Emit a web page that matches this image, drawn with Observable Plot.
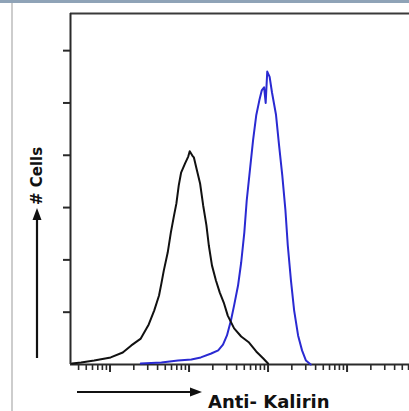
<!DOCTYPE html>
<html>
<head>
<meta charset="utf-8">
<script src="https://cdn.jsdelivr.net/npm/d3@7"></script>
<script src="https://cdn.jsdelivr.net/npm/@observablehq/plot@0.6"></script>
<style>
  html, body { margin: 0; padding: 0; background: #fff; width: 409px; height: 411px; overflow: hidden; }
  #wrap { position: relative; width: 409px; height: 411px; }
  #topband { position: absolute; left: 0; top: 0; width: 409px; height: 3px; background: #8fa3b7; }
  #leftline { position: absolute; left: 11px; top: 3px; width: 2px; height: 408px; background: #cdcdcd; }
  #chart { position: absolute; left: 0; top: 0; }
</style>
</head>
<body>
<div id="wrap">
  <div id="chart"></div>
  <div id="topband"></div>
  <div id="leftline"></div>
</div>
<script>
// Isotype control (black) histogram: fluorescence intensity vs. cell count
const blackIntensity = [3.3, 4.3, 6.3, 10.2, 14.5, 18.6, 24.5, 30.9, 36.3, 41.7, 44.7, 47.9, 53.7, 58.9, 64.6, 69.2, 74.1, 79.4, 89.1, 97.7, 102, 110, 115, 126, 138, 151, 166, 178, 195, 219, 245, 275, 309, 372, 457, 575, 708, 871, 1000];
const blackCounts = [0.4, 0.8, 1.5, 2.7, 4.6, 7.3, 9.9, 15.3, 20.7, 26.4, 31.0, 35.9, 42.8, 50.5, 57.0, 61.6, 68.5, 73.4, 76.9, 79.5, 81.5, 79.9, 79.2, 74.2, 69.2, 60.8, 53.2, 45.5, 37.9, 32.1, 27.5, 23.7, 18.7, 13.8, 10.7, 8.4, 5.0, 2.3, 0.4];

// Anti-Kalirin (blue) histogram
const blueIntensity = [24.5, 44.7, 72.4, 107, 141, 191, 234, 269, 302, 339, 372, 417, 457, 501, 537, 589, 646, 708, 776, 832, 891, 933, 977, 1047, 1122, 1259, 1380, 1514, 1660, 1778, 1950, 2138, 2399, 2692, 3020, 3467];
const blueCounts = [0.4, 0.8, 1.5, 1.9, 2.7, 4.2, 5.4, 7.6, 11.1, 16.8, 22.6, 30.2, 39.0, 50.5, 62.7, 74.2, 85.7, 95.2, 101.0, 104.8, 106, 100, 112, 110, 104, 95.6, 83.7, 72.3, 58.9, 45.5, 32.1, 20.7, 11.1, 5.4, 1.5, 0];

// Axis ticks
const xDomain = [3.16, 61700];
const majorTicks = [10, 100, 1000, 10000];
const minorMultipliers = [2, 3, 4, 5, 6, 7, 8, 9];
const yDomain = [0, 134.2];
const yTicks = [20, 40, 60, 80, 100, 120];

const xLabel = "Anti- Kalirin";
const yLabel = "# Cells";

const minorTicks = [1, ...majorTicks]
  .flatMap(m => minorMultipliers.map(k => m * k))
  .filter(v => v >= xDomain[0] && v <= xDomain[1]);

const black = blackIntensity.map((v, i) => ({x: v, y: blackCounts[i]}));
const blue = blueIntensity.map((v, i) => ({x: v, y: blueCounts[i]}));

const axisColor = "#2a2a2a";

const svg = Plot.plot({
  width: 409,
  height: 411,
  marginLeft: 70,
  marginRight: 0,
  marginTop: 13,
  marginBottom: 47,
  style: {background: "transparent", overflow: "visible"},
  x: {type: "log", domain: xDomain, label: null},
  y: {domain: yDomain, label: null},
  marks: [
    Plot.axisX({ticks: minorTicks, tickSize: 6, tickFormat: () => "", stroke: axisColor, strokeWidth: 1.6, strokeOpacity: 1, label: null}),
    Plot.axisX({ticks: majorTicks, tickSize: 8, tickFormat: () => "", stroke: axisColor, strokeWidth: 2, strokeOpacity: 1, label: null}),
    Plot.axisY({ticks: yTicks, tickSize: 7, tickFormat: () => "", stroke: axisColor, strokeWidth: 2, strokeOpacity: 1, label: null}),
    Plot.ruleY([yDomain[0]], {stroke: axisColor, strokeWidth: 2}),
    Plot.ruleY([yDomain[1]], {stroke: "#3a3a3a", strokeWidth: 2}),
    Plot.ruleX([xDomain[0]], {stroke: axisColor, strokeWidth: 2}),
    Plot.line(blue, {x: "x", y: "y", stroke: "#2a2ad2", strokeWidth: 2}),
    Plot.line(black, {x: "x", y: "y", stroke: "#111", strokeWidth: 2})
  ]
});

document.getElementById("chart").appendChild(svg);

// Axis titles with arrows
const s = d3.select(svg);
const g = s.append("g").attr("fill", "#111").attr("stroke", "#111");

// y arrow
g.append("line").attr("x1", 37).attr("y1", 358).attr("x2", 37).attr("y2", 218).attr("stroke-width", 2.2);
g.append("path").attr("d", "M37,208 L32.5,220 L41.5,220 Z").attr("stroke", "none");
// y label
s.append("text")
  .attr("transform", "translate(42,176) rotate(-90)")
  .attr("text-anchor", "middle")
  .attr("font-family", "DejaVu Sans, sans-serif")
  .attr("font-weight", "bold")
  .attr("font-size", 15)
  .attr("fill", "#111")
  .text(yLabel);

// x arrow
g.append("line").attr("x1", 77).attr("y1", 392).attr("x2", 192).attr("y2", 392).attr("stroke-width", 2.2);
g.append("path").attr("d", "M202,392 L190,387.5 L190,396.5 Z").attr("stroke", "none");
// x label
s.append("text")
  .attr("x", 208)
  .attr("y", 408)
  .attr("text-anchor", "start")
  .attr("font-family", "DejaVu Sans, sans-serif")
  .attr("font-weight", "bold")
  .attr("font-size", 18)
  .attr("fill", "#111")
  .text(xLabel);
</script>
</body>
</html>
